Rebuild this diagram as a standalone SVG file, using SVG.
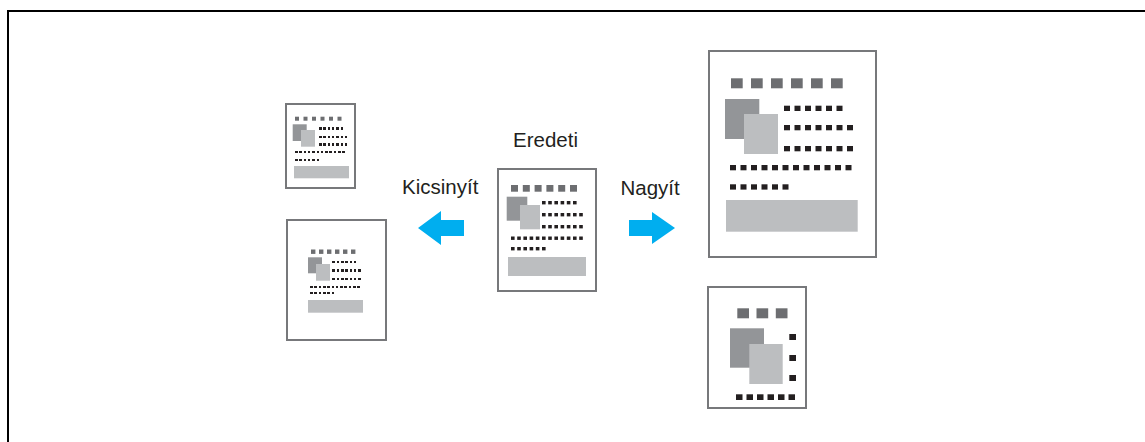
<svg xmlns="http://www.w3.org/2000/svg" width="1145" height="442" viewBox="0 0 1145 442">
<style>
.pg{fill:#fff;stroke:#77787b;stroke-width:2}
.sq{fill:#6d6e71}
.dk{fill:#939598}
.lt{fill:#bcbec0}
.dt{fill:#231f20}
.cr{shape-rendering:crispEdges}
.lbl{font-family:"Liberation Sans",Arial,sans-serif;font-size:20.5px;fill:#231f20}
.arr{fill:#00aeef}
</style>
<path d="M8,442 V11 H1145" fill="none" stroke="#000" stroke-width="2"/>

<g id="reduced-small">
<rect class="pg" x="286" y="104" width="69" height="84"/>
<rect class="sq" x="295" y="116.7" width="4" height="4"/><rect class="sq" x="303.5" y="116.7" width="4" height="4"/><rect class="sq" x="312" y="116.7" width="4" height="4"/><rect class="sq" x="320.5" y="116.7" width="4" height="4"/><rect class="sq" x="329" y="116.7" width="4" height="4"/><rect class="sq" x="337.5" y="116.7" width="4" height="4"/>
<rect class="dk" x="292.7" y="124.3" width="14" height="16.7"/>
<rect class="lt" x="301" y="130" width="14" height="16.7"/>
<g class="dt cr">
<rect x="319" y="127.3" width="2.5" height="2.2"/><rect x="323.3" y="127.3" width="2.5" height="2.2"/><rect x="327.6" y="127.3" width="2.5" height="2.2"/><rect x="331.9" y="127.3" width="2.5" height="2.2"/><rect x="336.2" y="127.3" width="2.5" height="2.2"/><rect x="340.5" y="127.3" width="2.5" height="2.2"/>
<rect x="319" y="135.7" width="2.5" height="2.2"/><rect x="323.3" y="135.7" width="2.5" height="2.2"/><rect x="327.6" y="135.7" width="2.5" height="2.2"/><rect x="331.9" y="135.7" width="2.5" height="2.2"/><rect x="336.2" y="135.7" width="2.5" height="2.2"/><rect x="340.5" y="135.7" width="2.5" height="2.2"/><rect x="344.8" y="135.7" width="2.5" height="2.2"/>
<rect x="319" y="143.3" width="2.5" height="2.2"/><rect x="323.3" y="143.3" width="2.5" height="2.2"/><rect x="327.6" y="143.3" width="2.5" height="2.2"/><rect x="331.9" y="143.3" width="2.5" height="2.2"/><rect x="336.2" y="143.3" width="2.5" height="2.2"/><rect x="340.5" y="143.3" width="2.5" height="2.2"/><rect x="344.8" y="143.3" width="2.5" height="2.2"/>
<rect x="295" y="151" width="2.5" height="2.2"/><rect x="299.3" y="151" width="2.5" height="2.2"/><rect x="303.6" y="151" width="2.5" height="2.2"/><rect x="307.9" y="151" width="2.5" height="2.2"/><rect x="312.2" y="151" width="2.5" height="2.2"/><rect x="316.5" y="151" width="2.5" height="2.2"/><rect x="320.8" y="151" width="2.5" height="2.2"/><rect x="325.1" y="151" width="2.5" height="2.2"/><rect x="329.4" y="151" width="2.5" height="2.2"/><rect x="333.7" y="151" width="2.5" height="2.2"/><rect x="338" y="151" width="2.5" height="2.2"/><rect x="342.3" y="151" width="2.5" height="2.2"/>
<rect x="295" y="159" width="2.5" height="2.2"/><rect x="299.3" y="159" width="2.5" height="2.2"/><rect x="303.6" y="159" width="2.5" height="2.2"/><rect x="307.9" y="159" width="2.5" height="2.2"/><rect x="312.2" y="159" width="2.5" height="2.2"/><rect x="316.5" y="159" width="2.5" height="2.2"/>
</g>
<rect class="lt" x="294" y="166" width="55" height="12.3"/>
</g>

<g id="reduced-page">
<rect class="pg" x="287" y="220" width="99" height="120"/>
<rect class="sq" x="311" y="249.5" width="4.4" height="4.4"/><rect class="sq" x="319" y="249.5" width="4.4" height="4.4"/><rect class="sq" x="327" y="249.5" width="4.4" height="4.4"/><rect class="sq" x="335" y="249.5" width="4.4" height="4.4"/><rect class="sq" x="343" y="249.5" width="4.4" height="4.4"/><rect class="sq" x="351" y="249.5" width="4.4" height="4.4"/>
<rect class="dk" x="308" y="257.3" width="14" height="16"/>
<rect class="lt" x="316" y="264" width="14" height="16.7"/>
<g class="dt cr">
<rect x="332.3" y="260.8" width="2.6" height="2.5"/><rect x="336.6" y="260.8" width="2.6" height="2.5"/><rect x="340.9" y="260.8" width="2.6" height="2.5"/><rect x="345.2" y="260.8" width="2.6" height="2.5"/><rect x="349.5" y="260.8" width="2.6" height="2.5"/><rect x="353.8" y="260.8" width="2.6" height="2.5"/>
<rect x="332.3" y="269.4" width="2.6" height="2.5"/><rect x="336.6" y="269.4" width="2.6" height="2.5"/><rect x="340.9" y="269.4" width="2.6" height="2.5"/><rect x="345.2" y="269.4" width="2.6" height="2.5"/><rect x="349.5" y="269.4" width="2.6" height="2.5"/><rect x="353.8" y="269.4" width="2.6" height="2.5"/><rect x="358.1" y="269.4" width="2.6" height="2.5"/>
<rect x="332.3" y="277.8" width="2.6" height="2.5"/><rect x="336.6" y="277.8" width="2.6" height="2.5"/><rect x="340.9" y="277.8" width="2.6" height="2.5"/><rect x="345.2" y="277.8" width="2.6" height="2.5"/><rect x="349.5" y="277.8" width="2.6" height="2.5"/><rect x="353.8" y="277.8" width="2.6" height="2.5"/><rect x="358.1" y="277.8" width="2.6" height="2.5"/>
<rect x="310" y="285.8" width="2.6" height="2.5"/><rect x="314.3" y="285.8" width="2.6" height="2.5"/><rect x="318.6" y="285.8" width="2.6" height="2.5"/><rect x="322.9" y="285.8" width="2.6" height="2.5"/><rect x="327.2" y="285.8" width="2.6" height="2.5"/><rect x="331.5" y="285.8" width="2.6" height="2.5"/><rect x="335.8" y="285.8" width="2.6" height="2.5"/><rect x="340.1" y="285.8" width="2.6" height="2.5"/><rect x="344.4" y="285.8" width="2.6" height="2.5"/><rect x="348.7" y="285.8" width="2.6" height="2.5"/><rect x="353" y="285.8" width="2.6" height="2.5"/><rect x="357.3" y="285.8" width="2.6" height="2.5"/>
<rect x="310" y="291.8" width="2.6" height="2.5"/><rect x="314.3" y="291.8" width="2.6" height="2.5"/><rect x="318.6" y="291.8" width="2.6" height="2.5"/><rect x="322.9" y="291.8" width="2.6" height="2.5"/><rect x="327.2" y="291.8" width="2.6" height="2.5"/><rect x="331.5" y="291.8" width="2.6" height="2.5"/>
</g>
<rect class="lt" x="308" y="300" width="55" height="12.7"/>
</g>

<g id="original">
<text class="lbl" x="513" y="146.5">Eredeti</text>
<rect class="pg" x="498" y="169" width="98" height="122"/>
<rect class="sq" x="511" y="185" width="7" height="6.7"/><rect class="sq" x="522.8" y="185" width="7" height="6.7"/><rect class="sq" x="534.6" y="185" width="7" height="6.7"/><rect class="sq" x="546.4" y="185" width="7" height="6.7"/><rect class="sq" x="558.2" y="185" width="7" height="6.7"/><rect class="sq" x="570" y="185" width="7" height="6.7"/>
<rect class="dk" x="506.7" y="196.7" width="20.6" height="24"/>
<rect class="lt" x="520" y="205" width="20" height="24.3"/>
<g class="dt">
<rect x="542" y="201" width="3.6" height="3.4"/><rect x="548.2" y="201" width="3.6" height="3.4"/><rect x="554.4" y="201" width="3.6" height="3.4"/><rect x="560.6" y="201" width="3.6" height="3.4"/><rect x="566.8" y="201" width="3.6" height="3.4"/><rect x="573" y="201" width="3.6" height="3.4"/>
<rect x="542" y="213" width="3.6" height="3.4"/><rect x="548.2" y="213" width="3.6" height="3.4"/><rect x="554.4" y="213" width="3.6" height="3.4"/><rect x="560.6" y="213" width="3.6" height="3.4"/><rect x="566.8" y="213" width="3.6" height="3.4"/><rect x="573" y="213" width="3.6" height="3.4"/><rect x="579.2" y="213" width="3.6" height="3.4"/>
<rect x="542" y="225" width="3.6" height="3.4"/><rect x="548.2" y="225" width="3.6" height="3.4"/><rect x="554.4" y="225" width="3.6" height="3.4"/><rect x="560.6" y="225" width="3.6" height="3.4"/><rect x="566.8" y="225" width="3.6" height="3.4"/><rect x="573" y="225" width="3.6" height="3.4"/><rect x="579.2" y="225" width="3.6" height="3.4"/>
<rect x="511" y="236.5" width="3.6" height="3.4"/><rect x="517.2" y="236.5" width="3.6" height="3.4"/><rect x="523.4" y="236.5" width="3.6" height="3.4"/><rect x="529.6" y="236.5" width="3.6" height="3.4"/><rect x="535.8" y="236.5" width="3.6" height="3.4"/><rect x="542" y="236.5" width="3.6" height="3.4"/><rect x="548.2" y="236.5" width="3.6" height="3.4"/><rect x="554.4" y="236.5" width="3.6" height="3.4"/><rect x="560.6" y="236.5" width="3.6" height="3.4"/><rect x="566.8" y="236.5" width="3.6" height="3.4"/><rect x="573" y="236.5" width="3.6" height="3.4"/><rect x="579.2" y="236.5" width="3.6" height="3.4"/>
<rect x="511" y="247" width="3.6" height="3.4"/><rect x="517.2" y="247" width="3.6" height="3.4"/><rect x="523.4" y="247" width="3.6" height="3.4"/><rect x="529.6" y="247" width="3.6" height="3.4"/><rect x="535.8" y="247" width="3.6" height="3.4"/><rect x="542" y="247" width="3.6" height="3.4"/>
</g>
<rect class="lt" x="508" y="257" width="78" height="19"/>
</g>

<g id="enlarged-page">
<rect class="pg" x="709" y="51" width="167" height="206"/>
<rect class="sq" x="731" y="78.3" width="11.7" height="10"/><rect class="sq" x="751" y="78.3" width="11.7" height="10"/><rect class="sq" x="771" y="78.3" width="11.7" height="10"/><rect class="sq" x="791" y="78.3" width="11.7" height="10"/><rect class="sq" x="811" y="78.3" width="11.7" height="10"/><rect class="sq" x="831" y="78.3" width="11.7" height="10"/>
<rect class="dk" x="725" y="99" width="34.3" height="40"/>
<rect class="lt" x="744" y="114" width="34" height="40"/>
<g class="dt">
<rect x="784" y="105.7" width="6" height="5.3"/><rect x="794.5" y="105.7" width="6" height="5.3"/><rect x="805" y="105.7" width="6" height="5.3"/><rect x="815.5" y="105.7" width="6" height="5.3"/><rect x="826" y="105.7" width="6" height="5.3"/><rect x="836.5" y="105.7" width="6" height="5.3"/>
<rect x="784" y="125" width="6" height="5.3"/><rect x="794.5" y="125" width="6" height="5.3"/><rect x="805" y="125" width="6" height="5.3"/><rect x="815.5" y="125" width="6" height="5.3"/><rect x="826" y="125" width="6" height="5.3"/><rect x="836.5" y="125" width="6" height="5.3"/><rect x="847" y="125" width="6" height="5.3"/>
<rect x="784" y="146" width="6" height="5.3"/><rect x="794.5" y="146" width="6" height="5.3"/><rect x="805" y="146" width="6" height="5.3"/><rect x="815.5" y="146" width="6" height="5.3"/><rect x="826" y="146" width="6" height="5.3"/><rect x="836.5" y="146" width="6" height="5.3"/><rect x="847" y="146" width="6" height="5.3"/>
<rect x="730" y="165" width="6" height="5.3"/><rect x="740.5" y="165" width="6" height="5.3"/><rect x="751" y="165" width="6" height="5.3"/><rect x="761.5" y="165" width="6" height="5.3"/><rect x="772" y="165" width="6" height="5.3"/><rect x="782.5" y="165" width="6" height="5.3"/><rect x="793" y="165" width="6" height="5.3"/><rect x="803.5" y="165" width="6" height="5.3"/><rect x="814" y="165" width="6" height="5.3"/><rect x="824.5" y="165" width="6" height="5.3"/><rect x="835" y="165" width="6" height="5.3"/><rect x="845.5" y="165" width="6" height="5.3"/>
<rect x="730" y="184.3" width="6" height="5.3"/><rect x="740.5" y="184.3" width="6" height="5.3"/><rect x="751" y="184.3" width="6" height="5.3"/><rect x="761.5" y="184.3" width="6" height="5.3"/><rect x="772" y="184.3" width="6" height="5.3"/><rect x="782.5" y="184.3" width="6" height="5.3"/>
</g>
<rect class="lt" x="726" y="200" width="131.7" height="31.7"/>
</g>

<g id="enlarged-crop">
<rect class="pg" x="708" y="287" width="98" height="121"/>
<rect class="sq" x="737.3" y="308.3" width="11.7" height="10"/><rect class="sq" x="756.5" y="308.3" width="11.7" height="10"/><rect class="sq" x="775.8" y="308.3" width="11.7" height="10"/>
<rect class="dk" x="730" y="328.3" width="34" height="39.4"/>
<rect class="lt" x="749.3" y="344" width="33.4" height="40"/>
<g class="dt">
<rect x="789.3" y="334" width="6.7" height="6"/><rect x="789.3" y="355" width="6.7" height="6"/><rect x="789.3" y="375" width="6.7" height="6"/>
<rect x="736" y="394.3" width="6.5" height="5.7"/><rect x="746.5" y="394.3" width="6.5" height="5.7"/><rect x="757" y="394.3" width="6.5" height="5.7"/><rect x="767.5" y="394.3" width="6.5" height="5.7"/><rect x="778" y="394.3" width="6.5" height="5.7"/><rect x="788.5" y="394.3" width="6.5" height="5.7"/>
</g>
</g>

<g id="connectors">
<polygon class="arr" points="464,220 441,220 441,211 418,228 441,245 441,236 464,236"/>
<polygon class="arr" points="629,220 652,220 652,212 675,228 652,244 652,236 629,236"/>
<text class="lbl" x="402" y="194">Kicsinyít</text>
<text class="lbl" x="620.5" y="194.5">Nagyít</text>
</g>
</svg>
